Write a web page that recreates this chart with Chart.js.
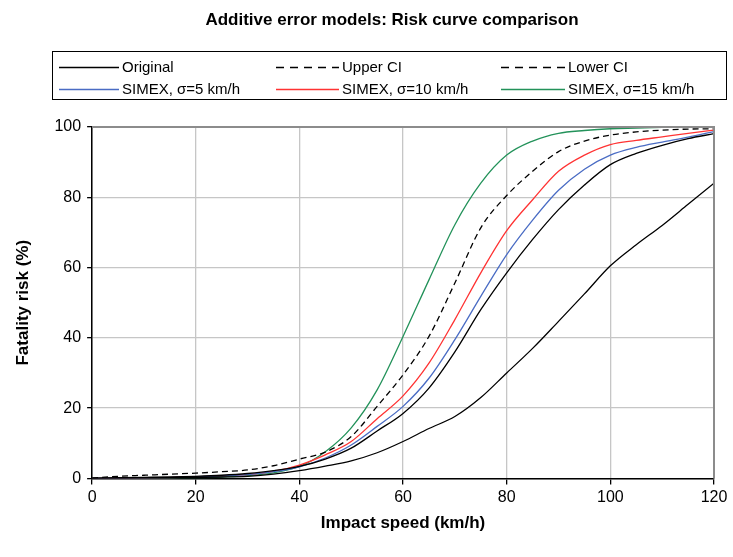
<!DOCTYPE html>
<html>
<head>
<meta charset="utf-8">
<title>Additive error models: Risk curve comparison</title>
<script src="https://cdn.jsdelivr.net/npm/chart.js@4.4.1/dist/chart.umd.min.js"></script>
<style>
    body { margin: 0; background: #ffffff; }
    #wrap { width: 733px; height: 557px; }
</style>
</head>
<body>
<div id="wrap"><canvas id="riskChart" width="733" height="557"></canvas></div>
<script>
// Impact speed (km/h)
const speeds = [0, 5, 10, 15, 20, 25, 30, 35, 40, 45, 50, 55, 60, 65, 70, 75, 80, 85, 90, 95, 100, 105, 110, 115, 120];

// Fatality risk (%)
const original = [0.1, 0.2, 0.3, 0.4, 0.6, 0.9, 1.4, 2.2, 3.4, 5.5, 8.6, 13.5, 18.5, 25.7, 36, 48, 58.5, 68, 76.5, 83.5, 89.3, 92.5, 94.8, 96.7, 98.1];
const upperCI = [0.1, 0.6, 0.9, 1.2, 1.5, 1.9, 2.4, 3.6, 5.5, 7.5, 11.9, 20.5, 29.5, 40.4, 55.6, 71.3, 80.5, 87.4, 93, 96, 97.7, 98.6, 99.1, 99.4, 99.5];
const lowerCI = [0, 0, 0.1, 0.2, 0.3, 0.4, 0.6, 1.2, 2.2, 3.5, 5, 7.3, 10.5, 14.2, 17.6, 23, 30, 37, 44.7, 52.5, 60.5, 66.5, 72, 78, 84];
const simex5 = [0, 0, 0.1, 0.2, 0.4, 0.7, 1.1, 1.9, 3.3, 5.8, 9.5, 14.8, 20.5, 28.5, 39.5, 51.8, 63.7, 73.5, 82, 88, 92, 94.2, 95.7, 97.1, 98.7];
const simex10 = [0, 0, 0.1, 0.2, 0.4, 0.7, 1.1, 2, 3.8, 6.7, 10.5, 17, 23.5, 32.8, 45.2, 58.5, 70.5, 79.3, 87.4, 92, 95, 96.2, 97.2, 98.2, 99.1];
const simex15 = [0, 0, 0, 0.1, 0.2, 0.4, 0.8, 1.6, 3.4, 7.6, 14.4, 25.2, 40.4, 56.5, 72.2, 84, 92, 96, 98.2, 99, 99.5, 99.7, 99.9, 100, 100];

const xTicks = [0, 20, 40, 60, 80, 100, 120];
const yTicks = [0, 20, 40, 60, 80, 100];

const chartTitle = 'Additive error models: Risk curve comparison';

const toPoints = values => speeds.map((s, i) => ({ x: s, y: values[i] }));

Chart.defaults.font.family = '"Liberation Sans", Arial, sans-serif';
Chart.defaults.color = '#000000';

// Title plus framed two-row legend, Excel style
const boxedLegend = {
    id: 'boxedLegend',
    afterDraw(chart) {
        const ctx = chart.ctx;
        const cols = [
            { lineStart: 59, lineEnd: 119, text: 122 },
            { lineStart: 276, lineEnd: 339, text: 342 },
            { lineStart: 501, lineEnd: 565, text: 568 }
        ];
        const rows = [67, 89];
        ctx.save();
        ctx.fillStyle = '#000000';
        ctx.font = 'bold 17px "Liberation Sans", Arial, sans-serif';
        ctx.textAlign = 'center';
        ctx.textBaseline = 'middle';
        ctx.fillText(chartTitle, 392, 20);

        ctx.textAlign = 'left';
        ctx.strokeStyle = '#000000';
        ctx.lineWidth = 1;
        ctx.strokeRect(52.5, 51.5, 674, 48);
        ctx.font = '15px "Liberation Sans", Arial, sans-serif';
        chart.data.datasets.forEach((ds, i) => {
            const col = cols[i % 3];
            const y = rows[Math.floor(i / 3)] + 0.5;
            ctx.beginPath();
            ctx.strokeStyle = ds.borderColor;
            ctx.lineWidth = 1.3;
            ctx.setLineDash(ds.legendDash ? [8, 6] : []);
            ctx.moveTo(col.lineStart, y);
            ctx.lineTo(col.lineEnd, y);
            ctx.stroke();
            ctx.setLineDash([]);
            ctx.fillText(ds.label, col.text, y);
        });
        ctx.restore();
    }
};

// Grey frame on the top and right of the plot area
const plotFrame = {
    id: 'plotFrame',
    afterDatasetsDraw(chart) {
        const { ctx, chartArea } = chart;
        ctx.save();
        ctx.strokeStyle = '#8c8c8c';
        ctx.lineWidth = 2;
        ctx.beginPath();
        ctx.moveTo(chartArea.left, chartArea.top);
        ctx.lineTo(chartArea.right, chartArea.top);
        ctx.lineTo(chartArea.right, chartArea.bottom);
        ctx.stroke();
        ctx.restore();
    }
};

new Chart(document.getElementById('riskChart'), {
    type: 'line',
    data: {
        datasets: [
            { label: 'Original', data: toPoints(original), borderColor: '#000000' },
            { label: 'Upper CI', data: toPoints(upperCI), borderColor: '#000000', borderDash: [6, 4], legendDash: true },
            { label: 'Lower CI', data: toPoints(lowerCI), borderColor: '#000000', legendDash: true },
            { label: 'SIMEX, σ=5 km/h', data: toPoints(simex5), borderColor: '#4a6cc4' },
            { label: 'SIMEX, σ=10 km/h', data: toPoints(simex10), borderColor: '#ff3333' },
            { label: 'SIMEX, σ=15 km/h', data: toPoints(simex15), borderColor: '#23925a' }
        ]
    },
    options: {
        responsive: false,
        animation: false,
        layout: { padding: { top: 127, left: 9, right: 19, bottom: 19 } },
        elements: {
            line: { borderWidth: 1.3, cubicInterpolationMode: 'monotone', fill: false },
            point: { radius: 0 }
        },
        plugins: {
            legend: { display: false },
            tooltip: { enabled: false },
            title: { display: false }
        },
        scales: {
            x: {
                type: 'linear',
                min: 0,
                max: 120,
                afterBuildTicks: axis => { axis.ticks = xTicks.map(v => ({ value: v })); },
                ticks: { font: { size: 16 }, padding: 4, maxRotation: 0 },
                grid: { color: '#c6c6c6', tickColor: '#000000', tickLength: 6, lineWidth: 1.3 },
                border: { color: '#000000', width: 1.5 },
                title: { display: true, text: 'Impact speed (km/h)', font: { size: 17, weight: 'bold' }, padding: { top: 2 } }
            },
            y: {
                min: 0,
                max: 100,
                afterBuildTicks: axis => { axis.ticks = yTicks.map(v => ({ value: v })); },
                ticks: { font: { size: 16 }, padding: 6 },
                grid: { color: '#c6c6c6', tickColor: '#000000', tickLength: 5, lineWidth: 1.3 },
                border: { color: '#000000', width: 1.5 },
                title: { display: true, text: 'Fatality risk (%)', font: { size: 17, weight: 'bold' }, padding: { bottom: 15 } }
            }
        }
    },
    plugins: [plotFrame, boxedLegend]
});
</script>
</body>
</html>
